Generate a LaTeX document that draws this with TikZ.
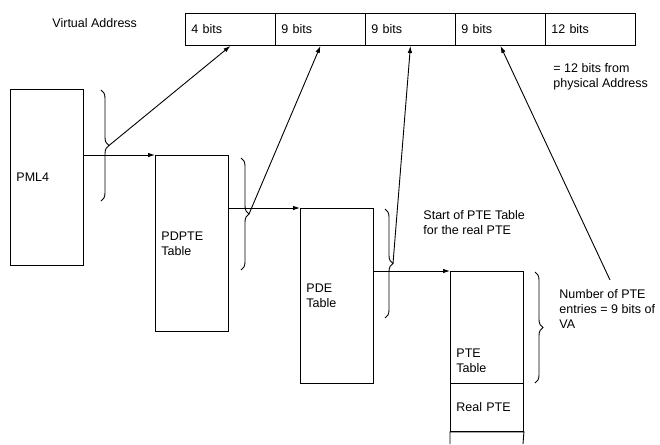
\documentclass[tikz,border=0pt]{standalone}
\usepackage{fontspec}
\setmainfont{Liberation Sans}
\usetikzlibrary{arrows.meta, positioning, calc, decorations.pathreplacing}

\begin{document}
\begin{tikzpicture}[x=1pt, y=-1pt, line width=0.9pt,
  font=\fontsize{12.5}{15}\selectfont,
  arr/.style={-{Latex[length=7pt, width=4.5pt]}},
  vacell/.style={draw, anchor=north west, minimum width=90pt, minimum height=32pt,
    text width=78pt, inner xsep=6pt, inner ysep=0pt, align=left},
  table/.style={draw, anchor=north west, minimum width=73pt,
    text width=61pt, inner xsep=6pt, inner ysep=0pt, align=left},
  note/.style={anchor=north west, inner sep=0pt, align=left},
  bracebar/.style={decorate, decoration={brace, amplitude=8pt}}]

% Canvas
\fill[white] (0,0) rectangle (660,444);
\useasboundingbox (0,0) rectangle (660,444);

% Virtual address fields
\node[note] (valabel) at (52,18) {Virtual Address};
\foreach \bits [count=\i] in {4,9,9,9,12}
  \node[vacell] (va\i) at ({185+90*(\i-1)},13) {\bits{} bits};
\node[note] (offset) at (553,63) {= 12 bits from\\physical Address};

% Paging tables
\node[table, minimum height=176pt] (pml4) at (10,89) {PML4};
\node[table, minimum height=176pt] (pdpte) at (155,155) {PDPTE\\Table};
\node[table, minimum height=175pt] (pde) at (300,208) {PDE\\Table};
\node[table, minimum height=112pt,
  label={[anchor=south west, inner sep=0pt, align=left, xshift=6pt, yshift=11pt]
    south west:PTE\\Table}] (pte) at (450,271) {};
\node[table, minimum height=48pt] (realpte) at (450,383) {Real PTE};
\draw (450,444) -- (realpte.south west) -- (realpte.south east) -- (523,444);

% Table to table
\draw[arr] (pml4.east |- pdpte.north) -- (pdpte.north west);
\draw[arr] (pdpte.east |- pde.north) -- (pde.north west);
\draw[arr] (pde.east |- pte.north) -- (pte.north west);

% Braces (index ranges)
\draw[bracebar] (101,90) -- (101,201);
\draw[bracebar] (241,158) -- (241,270);
\draw[bracebar] (385,209) -- (385,318);
\draw[bracebar] (535,272) -- (535,383);
\coordinate (b1) at (109,145.5);
\coordinate (b2) at (249,214);
\coordinate (b3) at (393,263.5);
\coordinate (b4) at (610,280);

% Index bits
\draw[arr] (b1) -- (va1.south);
\draw[arr] (b2) -- (va2.south);
\draw[arr] (b3) -- (va3.south);
\draw[arr] (b4) -- (va4.south);

\node[note] (start) at (423,210) {Start of PTE Table\\for the real PTE};
\node[note] (count) at (559,289) {Number of PTE\\entries = 9 bits of\\VA};

\end{tikzpicture}
\end{document}
